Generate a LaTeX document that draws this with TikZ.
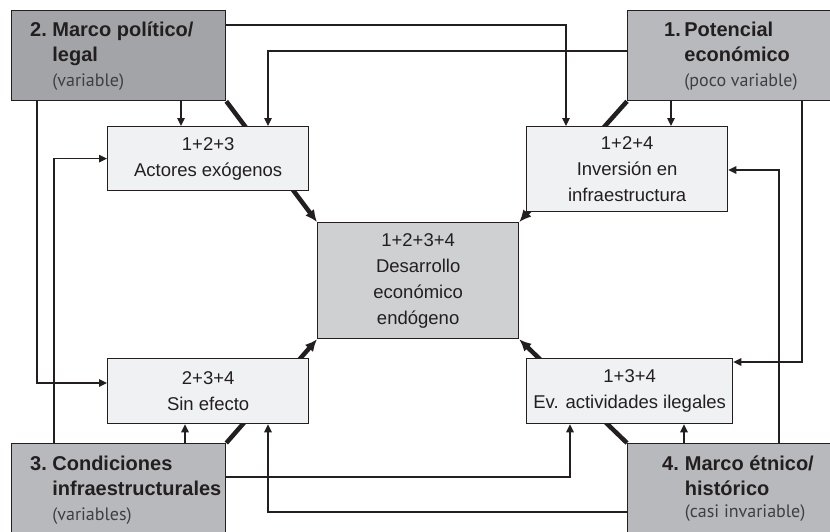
\documentclass[tikz,border=0pt]{standalone}
\usepackage{fontspec}
\setmainfont{Liberation Sans}
\newfontfamily\subfont{PT Sans}
\usetikzlibrary{
arrows.meta,
calc,
backgrounds
}
\definecolor{LineDark}{HTML}{231F20}
\definecolor{BoxDark}{HTML}{A3A4A7}
\definecolor{BoxMid}{HTML}{B8B9BC}
\definecolor{BoxCore}{HTML}{CFD0D2}
\definecolor{BoxLight}{HTML}{F0F1F3}
\definecolor{SubGray}{HTML}{3F3F41}
\newcommand{\subline}[1]{{\subfont\mdseries\fontsize{18}{25}\selectfont\color{SubGray}#1}}

\begin{document}
\begin{tikzpicture}[x=1pt,y=-1pt,
    factor/.style={draw=LineDark, line width=1.3pt, minimum width=214pt, minimum height=97pt, inner sep=0pt, anchor=north west},
    effect/.style={draw=LineDark, fill=BoxLight, line width=1.3pt, minimum width=201pt, inner sep=2pt, anchor=north west,
        align=center, text=LineDark, font=\fontsize{18.5}{26}\selectfont, execute at begin node={\rule{0pt}{21pt}}},
    title/.style={anchor=north west, inner sep=0pt, text=LineDark, font=\fontsize{20}{25}\selectfont\bfseries},
    conn/.style={draw=LineDark, line width=1.2pt, -{Triangle[length=8pt,width=7.5pt]}},
    core/.style={draw=LineDark, line width=4.5pt, -{Latex[length=12pt,width=11pt]}}]
        \useasboundingbox (0,0) rectangle (830,531);
        \node[factor, fill=BoxDark, minimum height=90pt] (pol) at (11,10) {};
        \node[factor, fill=BoxMid, minimum width=213pt, minimum height=90pt] (eco) at (627,10) {};
        \node[factor, fill=BoxMid] (infra) at (11,443) {};
        \node[factor, fill=BoxMid, minimum width=213pt] (etn) at (627,443) {};
        \node[title] (polt) at ($(pol.north west)+(19,8.5)$) {\begin{tabular}{@{}l@{\hspace{5.5pt}}l@{}}
            2. & Marco político/\\ & legal\\ & \subline{(variable)}\end{tabular}};
        \node[title] (ecot) at ($(eco.north west)+(37,8.5)$) {\begin{tabular}{@{}l@{\hspace{3.5pt}}l@{}}
            1. & Potencial\\ & económico\\ & \subline{(poco variable)}\end{tabular}};
        \node[title] (infrat) at ($(infra.north west)+(19,9.5)$) {\begin{tabular}{@{}l@{\hspace{5.5pt}}l@{}}
            3. & Condiciones\\ & infraestructurales\\ & \subline{(variables)}\end{tabular}};
        \node[title] (etnt) at ($(etn.north west)+(35,9.5)$) {\begin{tabular}{@{}l@{\hspace{6pt}}l@{}}
            4. & Marco étnico/\\ & histórico\\[-3pt] & \subline{(casi invariable)}\end{tabular}};
        \node[effect, minimum height=64pt] (act) at (107,126) {1+2+3\\Actores exógenos};
        \node[effect, minimum height=85pt] (inv) at (526,126) {1+2+4\\Inversión en\\infraestructura};
        \node[effect, minimum height=65pt] (sin) at (107,358) {2+3+4\\Sin efecto};
        \node[effect, minimum width=206pt, minimum height=65pt, inner sep=1pt] (ilg) at (526,358) {1+3+4\\Ev. actividades ilegales};
        \node[effect, fill=BoxCore, minimum height=116pt] (des) at (317,222) {1+2+3+4\\Desarrollo\\económico\\endógeno};
        \begin{scope}[on background layer]
            \fill[white] (0,0) rectangle (830,531);
            \draw[core] (pol.south east) -- (des.north west);
            \draw[core] (eco.south west) -- (des.north east);
            \draw[core] (infra.north east) -- (des.south west);
            \draw[core] (etn.north west) -- (des.south east);
        \end{scope}
        \draw[conn] ($(pol.north east)+(0,15)$) -| ($(inv.north west)+(40,0)$);
        \draw[conn] ($(eco.north west)+(0,41)$) -| ($(act.north west)+(161,0)$);
        \draw[conn] ($(pol.south west)+(170,0)$) -- ($(act.north west)+(74,0)$);
        \draw[conn] ($(eco.south west)+(44,0)$) -- ($(inv.north west)+(145,0)$);
        \draw[conn] ($(pol.south west)+(26,0)$) |- ($(sin.north west)+(0,25)$);
        \draw[conn] ($(infra.north west)+(43,0)$) |- (act.west);
        \draw[conn] ($(infra.north east)+(0,34)$) -| ($(ilg.south west)+(44,0)$);
        \draw[conn] ($(etn.north west)+(0,69)$) -| ($(sin.south west)+(161,0)$);
        \draw[conn] ($(infra.north west)+(174,0)$) -- ($(sin.south west)+(78,0)$);
        \draw[conn] ($(etn.north west)+(57,0)$) -- ($(ilg.south west)+(158,0)$);
        \draw[conn] ($(eco.south west)+(175,0)$) |- ($(ilg.north east)+(0,4)$);
        \draw[conn] ($(etn.north west)+(152,0)$) |- ($(inv.north east)+(0,44)$);
    \end{tikzpicture}
\end{document}
